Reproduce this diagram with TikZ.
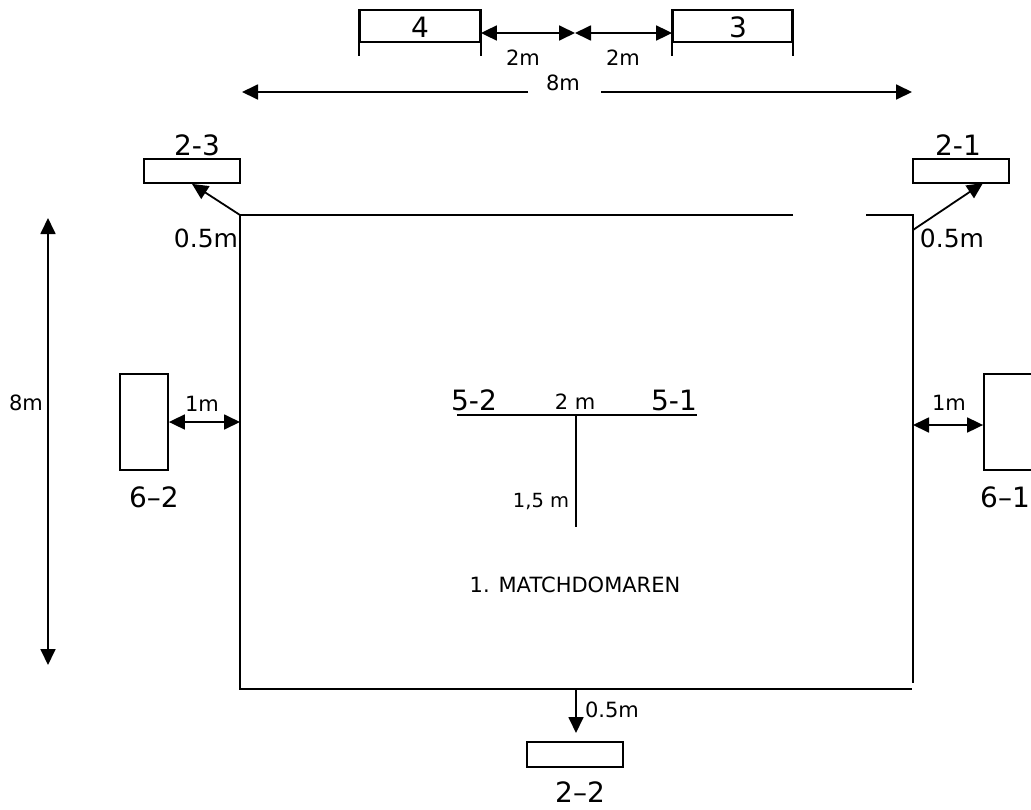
\documentclass[tikz,border=0pt]{standalone}
\usepackage{fontspec}
\setmainfont{DejaVu Sans}
\usetikzlibrary{arrows.meta}
\begin{document}
\begin{tikzpicture}[x=1pt,y=-1pt,
  line width=1.8pt,
  tip/.style={-{Triangle[length=16pt,width=15pt]}},
  both/.style={{Triangle[length=16pt,width=15pt]}-{Triangle[length=16pt,width=15pt]}},
  box/.style={draw,rectangle,inner sep=0pt,line width=1.8pt},
  big/.style={font=\fontsize{28}{28}\selectfont,inner sep=0pt,anchor=base},
  mid/.style={font=\fontsize{25}{25}\selectfont,inner sep=0pt,anchor=base},
  small/.style={font=\fontsize{21}{21}\selectfont,inner sep=0pt,anchor=base},
  tiny/.style={font=\fontsize{19.5}{19.5}\selectfont,inner sep=0pt,anchor=base},
]
\useasboundingbox (0,0) rectangle (1031,809);

% top boxes 4 and 3
\node[box,minimum width=120pt,minimum height=32pt] (b4) at (420,26) {};
\node[box,minimum width=119pt,minimum height=32pt] (b3) at (732.5,26) {};
\draw (b4.north west) -- ++(0,47);
\draw (b4.north east) -- ++(0,47);
\draw (b3.north west) -- ++(0,47);
\draw (b3.north east) -- ++(0,47);
\node[big] (l4) at (420,37) {4};
\node[big] (l3) at (738,37) {3};
\coordinate (mid) at (575,33);
\draw[both] (b4.east |- mid) -- (mid);
\draw[both] (mid) -- (b3.west |- mid);
\node[small] (d1) at (523,65) {2m};
\node[small] (d2) at (623,65) {2m};

% 8m horizontal
\coordinate (h8l) at (242,92);
\coordinate (h8r) at (912,92);
\coordinate (g1) at (528,92);
\coordinate (g2) at (601,92);
\node[small] (t8) at (563,90) {8m};
\draw[tip] (g1) -- (h8l);
\draw[tip] (g2) -- (h8r);

% field
\coordinate (fTL) at (240,215);
\coordinate (fBL) at (240,689);
\coordinate (fBR) at (912,689);
\coordinate (fTR) at (913,215);
\coordinate (fRE) at (913,683);
\coordinate (gapL) at (793,215);
\coordinate (gapR) at (866,215);
\draw (gapL) -- (fTL) -- (fBL) -- (fBR);
\draw (gapR) -- (fTR) -- (fRE);

% 2-3
\node[box,minimum width=96pt,minimum height=24pt] (b23) at (192,171) {};
\node[big] (l23) at (197,155) {2-3};
\draw[tip] (fTL) -- (b23.south);
\node[mid] (h23) at (206,247) {0.5m};

% 2-1
\node[box,minimum width=96pt,minimum height=24pt] (b21) at (961,171) {};
\node[big] (l21) at (958,155) {2-1};
\coordinate (a21) at (913,230);
\coordinate (t21) at (983,183);
\draw[tip] (a21) -- (t21);
\node[mid] (h21) at (952,247) {0.5m};

% vertical 8m
\coordinate (v8t) at (48,218);
\coordinate (v8b) at (48,665);
\draw[both] (v8t) -- (v8b);
\node[small] (tv8) at (26,410) {8m};

% 6-2
\node[box,minimum width=48pt,minimum height=96pt] (b62) at (144,422) {};
\node[big] (l62) at (154,507) {6–2};
\draw[both] (b62.east) -- (b62.east -| fTL);
\node[small] (m62) at (202,411) {1m};

% 6-1
\node[box,minimum width=56pt,minimum height=96pt] (b61) at (1012,422) {};
\node[big] (l61) at (1005,507) {6–1};
\coordinate (r61) at (913,425);
\draw[both] (r61) -- (r61 -| b61.west);
\node[small] (m61) at (949,410) {1m};

% T
\coordinate (tl) at (457,415);
\coordinate (tr) at (697,415);
\coordinate (tc) at (576,415);
\coordinate (tb) at (576,527);
\draw (tl) -- (tr);
\draw (tc) -- (tb);
\node[big] (l52) at (474,410) {5-2};
\node[big] (l51) at (674,410) {5-1};
\node[small] (w2) at (575,409) {2 m};
\node[tiny] (w15) at (541,507) {1,5 m};
\node[small] (md) at (575,592) {1. MATCHDOMAREN};

% 2-2
\coordinate (bt) at (576,689);
\node[box,minimum width=96pt,minimum height=25pt] (b22) at (575,754.5) {};
\coordinate (bk) at (576,733);
\draw[tip] (bt) -- (bk);
\node[small] (h22) at (612,717) {0.5m};
\node[big] (l22) at (580,802) {2–2};
\end{tikzpicture}
\end{document}
